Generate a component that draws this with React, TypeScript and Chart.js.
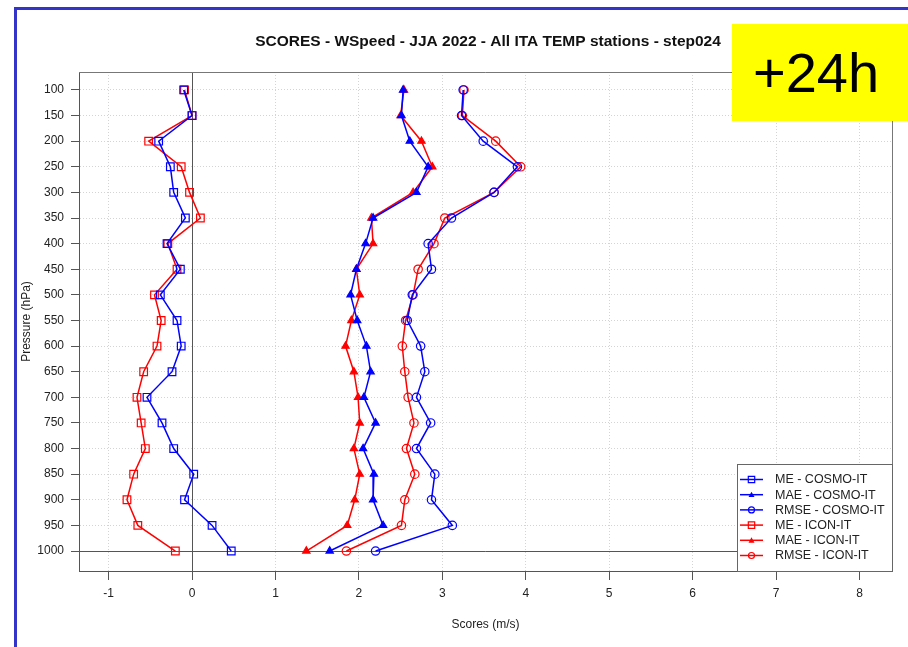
import React, { useEffect, useRef } from "react";
import { Chart, registerables } from "chart.js";

Chart.register(...registerables);

const levels = [100, 150, 200, 250, 300, 350, 400, 450, 500, 550, 600, 650, 700, 750, 800, 850, 900, 950, 1000];

const meCosmo = [-0.1, 0.0, -0.4, -0.26, -0.22, -0.08, -0.3, -0.14, -0.38, -0.18, -0.13, -0.24, -0.54, -0.36, -0.22, 0.02, -0.09, 0.24, 0.47];
const maeCosmo = [2.53, 2.51, 2.61, 2.83, 2.69, 2.17, 2.08, 1.97, 1.9, 1.98, 2.09, 2.14, 2.06, 2.2, 2.05, 2.18, 2.17, 2.29, 1.65];
const rmseCosmo = [3.25, 3.23, 3.49, 3.9, 3.62, 3.11, 2.83, 2.87, 2.64, 2.58, 2.74, 2.79, 2.69, 2.86, 2.69, 2.91, 2.87, 3.12, 2.2];
const meIcon = [-0.09, 0.0, -0.52, -0.13, -0.03, 0.1, -0.29, -0.18, -0.45, -0.37, -0.42, -0.58, -0.66, -0.61, -0.56, -0.7, -0.78, -0.65, -0.2];
const maeIcon = [2.54, 2.5, 2.75, 2.88, 2.65, 2.15, 2.17, 1.97, 2.01, 1.91, 1.84, 1.94, 1.99, 2.01, 1.94, 2.01, 1.95, 1.86, 1.37];
const rmseIcon = [3.26, 3.24, 3.64, 3.94, 3.62, 3.03, 2.9, 2.71, 2.65, 2.56, 2.52, 2.55, 2.59, 2.66, 2.57, 2.67, 2.55, 2.51, 1.85];

const xTicks = [-1, 0, 1, 2, 3, 4, 5, 6, 7, 8];
const yTicks = levels;

const seriesNames = ["ME - COSMO-IT", "MAE - COSMO-IT", "RMSE - COSMO-IT", "ME - ICON-IT", "MAE - ICON-IT", "RMSE - ICON-IT"];
const seriesValues = [meCosmo, maeCosmo, rmseCosmo, meIcon, maeIcon, rmseIcon];

const BLUE = "#0000ff";
const RED = "#ff0000";
const colors = [BLUE, BLUE, BLUE, RED, RED, RED];
const styles = ["rect", "triangle", "circle", "rect", "triangle", "circle"];
const radii = [5.4, 4.2, 4.2, 5.4, 4.2, 4.2];

const FONT = "'Liberation Sans', Arial, sans-serif";

function drawMarker(ctx: CanvasRenderingContext2D, style: string, x: number, y: number, r: number, color: string) {
  ctx.save();
  ctx.strokeStyle = color;
  ctx.fillStyle = color;
  ctx.lineWidth = 1.2;
  ctx.beginPath();
  if (style === "rect") {
    ctx.rect(x - r, y - r, 2 * r, 2 * r);
    ctx.stroke();
  } else if (style === "circle") {
    ctx.arc(x, y, r, 0, Math.PI * 2);
    ctx.stroke();
  } else {
    ctx.moveTo(x, y - r);
    ctx.lineTo(x + r, y + r * 0.8);
    ctx.lineTo(x - r, y + r * 0.8);
    ctx.closePath();
    ctx.fill();
  }
  ctx.restore();
}

const decorPlugin = {
  id: "decor",
  beforeDatasetsDraw(chart: any) {
    const { ctx, chartArea, scales } = chart;
    const x0 = scales.x.getPixelForValue(0);
    const y1000 = scales.y.getPixelForValue(1000);
    ctx.save();
    ctx.strokeStyle = "#555";
    ctx.lineWidth = 1;
    ctx.beginPath();
    ctx.moveTo(Math.round(x0) + 0.5, chartArea.top);
    ctx.lineTo(Math.round(x0) + 0.5, chartArea.bottom);
    ctx.moveTo(chartArea.left, Math.round(y1000) + 0.5);
    ctx.lineTo(chartArea.right, Math.round(y1000) + 0.5);
    ctx.stroke();
    ctx.restore();
  },
  afterDraw(chart: any) {
    const { ctx, chartArea } = chart;
    ctx.save();
    // frame
    ctx.strokeStyle = "#777";
    ctx.lineWidth = 1;
    ctx.beginPath();
    ctx.moveTo(chartArea.left, chartArea.top + 0.5);
    ctx.lineTo(chartArea.right + 0.5, chartArea.top + 0.5);
    ctx.lineTo(chartArea.right + 0.5, chartArea.bottom);
    ctx.stroke();

    // title
    ctx.fillStyle = "#111";
    ctx.font = `bold 15.5px ${FONT}`;
    ctx.textAlign = "center";
    ctx.textBaseline = "middle";
    ctx.fillText("SCORES - WSpeed - JJA 2022 - All ITA TEMP stations - step024", 488, 42);

    // axis titles
    ctx.fillStyle = "#222";
    ctx.font = `12px ${FONT}`;
    ctx.fillText("Scores (m/s)", (chartArea.left + chartArea.right) / 2, 625);
    ctx.save();
    ctx.translate(27, (chartArea.top + chartArea.bottom) / 2);
    ctx.rotate(-Math.PI / 2);
    ctx.fillText("Pressure (hPa)", 0, 0);
    ctx.restore();

    // legend
    const lx = 737, ly = 464, lw = chartArea.right - 737, lh = chartArea.bottom - 464;
    ctx.fillStyle = "#fff";
    ctx.fillRect(lx, ly, lw, lh);
    ctx.strokeStyle = "#666";
    ctx.strokeRect(lx + 0.5, ly + 0.5, lw, lh);
    ctx.font = `12.5px ${FONT}`;
    ctx.textAlign = "left";
    seriesNames.forEach((name, i) => {
      const y = 479.5 + i * 15.2;
      ctx.strokeStyle = colors[i];
      ctx.lineWidth = 1.5;
      ctx.beginPath();
      ctx.moveTo(740, y);
      ctx.lineTo(763, y);
      ctx.stroke();
      drawMarker(ctx, styles[i], 751.5, y, styles[i] === "rect" ? 3.2 : 3, colors[i]);
      ctx.fillStyle = "#222";
      ctx.fillText(name, 775, y + 0.5);
    });
    ctx.restore();
  },
};

export default function App() {
  const canvasRef = useRef<HTMLCanvasElement | null>(null);

  useEffect(() => {
    if (!canvasRef.current) return;
    const datasets = seriesNames.map((name, i) => ({
      label: name,
      data: seriesValues[i].map((v, j) => ({ x: v, y: levels[j] })),
      borderColor: colors[i],
      backgroundColor: styles[i] === "triangle" ? colors[i] : "rgba(0,0,0,0)",
      pointBorderColor: colors[i],
      pointBackgroundColor: styles[i] === "triangle" ? colors[i] : "rgba(0,0,0,0)",
      pointStyle: styles[i] as any,
      pointRadius: radii[i],
      pointBorderWidth: 1.2,
      borderWidth: 1.5,
      tension: 0,
      fill: false,
    }));

    const tickFont = { family: FONT, size: 12 };

    const chart = new Chart(canvasRef.current, {
      type: "line",
      data: { datasets },
      options: {
        animation: false,
        responsive: false,
        maintainAspectRatio: false,
        layout: { padding: { top: 72, right: 16, left: 0, bottom: 0 } },
        plugins: { legend: { display: false }, tooltip: { enabled: false }, title: { display: false } },
        scales: {
          x: {
            type: "linear",
            min: -1.355,
            max: 8.39,
            afterBuildTicks: (scale: any) => {
              scale.ticks = xTicks.map((v) => ({ value: v }));
            },
            afterFit: (scale: any) => {
              scale.height = 76;
            },
            ticks: { font: tickFont, color: "#222", padding: 6, maxRotation: 0, autoSkip: false, callback: (v: any) => String(v) },
            grid: {
              color: "#d4d4d4",
              lineWidth: 1,
              tickColor: "#555",
              tickLength: 9,
              tickBorderDash: [],
            },
            border: { display: true, color: "#555", width: 1, dash: [1, 2] },
          },
          y: {
            type: "linear",
            reverse: true,
            min: 65,
            max: 1039,
            afterBuildTicks: (scale: any) => {
              scale.ticks = yTicks.map((v) => ({ value: v }));
            },
            afterFit: (scale: any) => {
              scale.width = 79;
            },
            ticks: { font: tickFont, color: "#222", padding: 7, autoSkip: false, callback: (v: any) => String(v) },
            grid: {
              color: "#d4d4d4",
              lineWidth: 1,
              tickColor: "#555",
              tickLength: 8,
              tickBorderDash: [],
            },
            border: { display: true, color: "#555", width: 1, dash: [1, 2] },
          },
        },
      },
      plugins: [decorPlugin],
    });
    return () => chart.destroy();
  }, []);

  return (
    <div style={{ position: "fixed", left: 0, top: 0, width: 908, height: 647, overflow: "hidden", background: "#fff" }}>
      <canvas ref={canvasRef} width={908} height={647} style={{ position: "absolute", left: 0, top: 0, width: 908, height: 647 }} />
      <div
        style={{
          position: "absolute",
          left: 14,
          top: 7,
          width: 1000,
          height: 1000,
          borderLeft: "3px solid #3434c8",
          borderTop: "3px solid #3434c8",
          pointerEvents: "none",
        }}
      />
      <div
        style={{
          position: "absolute",
          left: 732,
          top: 24,
          width: 176,
          height: 97,
          background: "#ffff00",
          display: "flex",
          alignItems: "center",
          justifyContent: "center",
          fontFamily: FONT,
          fontSize: 56,
          color: "#000",
          lineHeight: 1,
        }}
      >
        <span style={{ marginRight: 8 }}>+24h</span>
      </div>
    </div>
  );
}
